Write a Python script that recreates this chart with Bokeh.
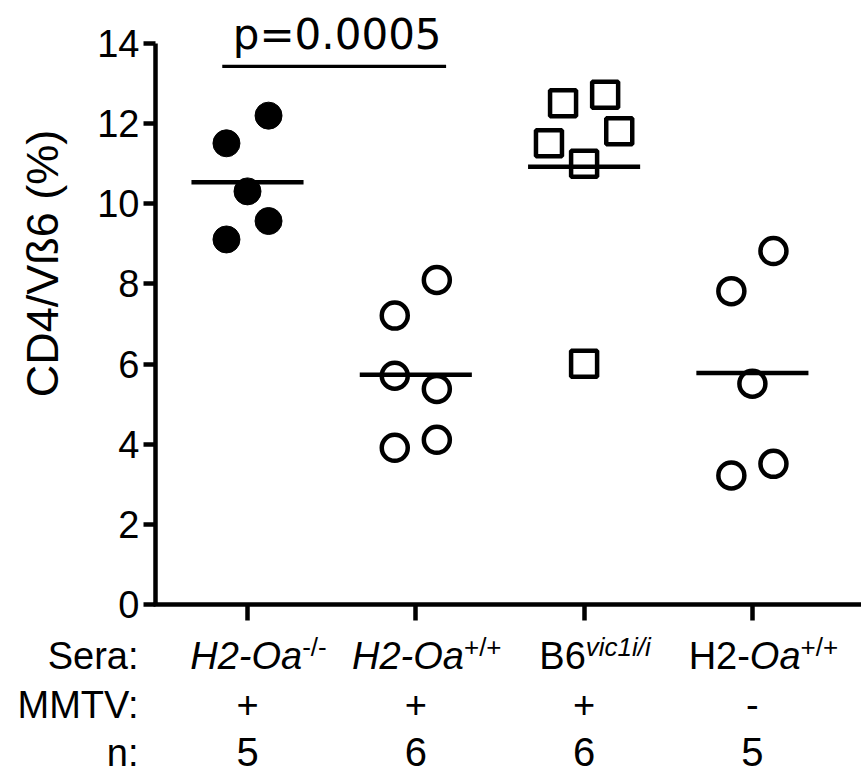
import math
from bokeh.plotting import figure
from bokeh.models import Range1d, FixedTicker, LinearAxis
from bokeh.core.properties import value
from bokeh.embed import file_html
from bokeh.resources import INLINE

# ---------------- data ----------------
group_pos = [1, 2, 3, 4]
g1_vals = [12.2, 11.51, 10.31, 9.57, 9.11]          # H2-Oa-/- sera, MMTV+
g2_vals = [8.10, 7.21, 5.71, 5.38, 4.11, 3.91]      # H2-Oa+/+ sera, MMTV+
g3_vals = [12.72, 12.51, 11.81, 11.51, 11.0, 6.01]  # B6 vic1 i/i sera, MMTV+
g4_vals = [8.82, 7.82, 5.51, 3.51, 3.22]            # H2-Oa+/+ sera, MMTV-
# swarm slot of each point (left/right arrangement as in the picture)
g1_slot = [1, -1, 0, 1, -1]
g2_slot = [1, -1, -1, 1, 1, -1]
g3_slot = [1, -1, 1.67, -1.67, 0, 0]
g4_slot = [1, -1, 0, 1, -1]
mmtv_row = ["+", "+", "+", "-"]
y_ticks = [0, 2, 4, 6, 8, 10, 12, 14]
p_text = "p=0.0005"
y_label = "CD4/V\u00df6 (%)"
row_titles = ["Sera:", "MMTV:", "n:"]
# category label pieces: (text, italic, superscript)
sera_parts = [
    [("H2-Oa", True, False), ("-/-", False, True)],
    [("H2-Oa", True, False), ("+/+", False, True)],
    [("B6", False, False), ("vic1i/i", True, True)],
    [("H2-", False, False), ("Oa", True, False), ("+/+", False, True)],
]

# ---------------- layout / style ----------------
FONT = "Liberation Sans"
W, H = 861, 778
# page geometry: category 1 at x=247 px, 168.3 px per category;
# value 0 at y=604 px, 40.07 px per unit
CX0, CPX = 247.0, 168.3
VY0, VPX = 604.0, 40.07
FRAME_L = 155
STEP = 0.125                # swarm step in x units
HALF = 0.333                # half width of mean bar
BIG, SUP = 38, 26
BASE_FIX = 0.33             # text baseline correction (em)
ARIAL = {"H": 722, "2": 556, "-": 333, "O": 778, "a": 556, "B": 667, "6": 556,
         "v": 500, "i": 222, "c": 500, "1": 556, "/": 278, "+": 584}


def xd(px):
    return 1 + (px - CX0) / CPX


def yd(py):
    return (VY0 - py) / VPX


def twidth(s, size):
    return sum(ARIAL.get(ch, 556) for ch in s) * size / 1000.0


p = figure(width=W, height=H,
           x_range=Range1d(xd(0), xd(W)), y_range=Range1d(yd(H), yd(0)),
           output_backend="svg", toolbar_location=None,
           x_axis_type=None, y_axis_type=None,
           min_border_left=0, min_border_right=0,
           min_border_top=0, min_border_bottom=0)
p.outline_line_color = None
p.background_fill_color = "white"
p.border_fill_color = "white"

yaxis = LinearAxis(ticker=FixedTicker(ticks=y_ticks), bounds=(0, 14),
                   fixed_location=xd(FRAME_L),
                   axis_line_width=4.5, major_tick_line_width=4.5,
                   major_tick_out=12, major_tick_in=0,
                   minor_tick_line_color=None,
                   major_label_text_font=FONT, major_label_text_font_size="38px",
                   major_label_text_color="black",
                   major_label_standoff=4)
p.add_layout(yaxis, "left")

xaxis = LinearAxis(ticker=FixedTicker(ticks=group_pos),
                   fixed_location=0, bounds=(xd(FRAME_L - 2), xd(W)),
                   major_label_overrides={g: "" for g in group_pos},
                   major_label_text_font_size="1px", major_label_standoff=0,
                   axis_line_width=4.5, major_tick_line_width=4.5,
                   major_tick_out=16, major_tick_in=0,
                   minor_tick_line_color=None)
p.add_layout(xaxis, "below")

groups = [(g1_vals, g1_slot), (g2_vals, g2_slot), (g3_vals, g3_slot), (g4_vals, g4_slot)]
for i, (vals, slots) in enumerate(groups):
    xs = [group_pos[i] + s * STEP for s in slots]
    if i == 0:
        p.scatter(xs, vals, marker="circle", size=27, fill_color="black",
                  line_color="black", line_width=1)
    elif i == 2:
        p.scatter(xs, vals, marker="square", size=26, fill_color=None,
                  line_color="black", line_width=4.5)
    else:
        p.scatter(xs, vals, marker="circle", size=26, fill_color=None,
                  line_color="black", line_width=4.5)
    m = sum(vals) / len(vals)
    p.segment(x0=[group_pos[i] - HALF], y0=[m], x1=[group_pos[i] + HALF], y1=[m],
              line_color="black", line_width=4.5)

# significance bar
sig_x0, sig_x1, sig_y = group_pos[0] - 0.15, group_pos[1] + 0.18, 13.43
p.segment(x0=[sig_x0], y0=[sig_y], x1=[sig_x1], y1=[sig_y], line_color="black", line_width=3.3)
p.text(x=[(sig_x0 + sig_x1) / 2], y=[sig_y], text=[p_text], x_offset=3,
       y_offset=-18 - BASE_FIX * 42,
       text_align="center", text_baseline="alphabetic",
       text_font=value("DejaVu Sans"), text_font_size=value("42px"), text_color="black")

# y-axis title (rotated)
p.text(x=[xd(57 - BASE_FIX * 45)], y=[yd(263)], text=[y_label], angle=math.pi / 2,
       text_align="center", text_baseline="alphabetic",
       text_font=value(FONT), text_font_size=value("45px"), text_color="black")

# label rows below the axis
row_base = [668, 717, 765]
p.text(x=[xd(138)] * 3, y=[yd(b - BASE_FIX * BIG) for b in row_base], text=row_titles,
       text_align="right", text_baseline="alphabetic",
       text_font=value(FONT), text_font_size=value("38px"), text_color="black")

for i, g in enumerate(group_pos):
    parts = sera_parts[i]
    total = sum(twidth(t, SUP if sup else BIG) for t, _, sup in parts)
    xo = -total / 2 + 11
    for t, ital, sup in parts:
        size = SUP if sup else BIG
        base = row_base[0] - (13 if sup else 0) - BASE_FIX * size
        p.text(x=[g], y=[yd(base)], text=[t], x_offset=xo,
               text_align="left", text_baseline="alphabetic",
               text_font=value(FONT), text_font_size=value(f"{size}px"),
               text_font_style=value("italic" if ital else "normal"), text_color="black")
        xo += twidth(t, size)

p.text(x=group_pos, y=[yd(row_base[1] - BASE_FIX * BIG)] * 4, text=mmtv_row,
       text_align="center", text_baseline="alphabetic",
       text_font=value(FONT), text_font_size=value("38px"), text_color="black")
n_row = [str(len(v)) for v, _ in groups]
p.text(x=group_pos, y=[yd(row_base[2] - BASE_FIX * 40)] * 4, text=n_row,
       text_align="center", text_baseline="alphabetic",
       text_font=value(FONT), text_font_size=value("40px"), text_color="black")

open("out.html", "w").write(file_html(p, INLINE))
